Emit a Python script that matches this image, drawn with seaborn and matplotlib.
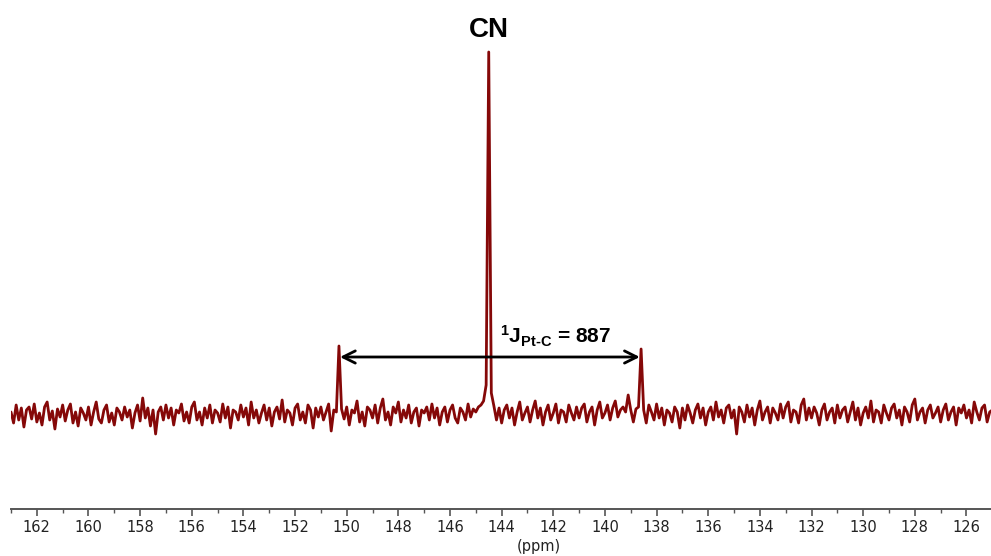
import numpy as np
import pandas as pd
import seaborn as sns
import matplotlib
matplotlib.use("Agg")
import matplotlib.pyplot as plt
from matplotlib.ticker import MultipleLocator

# 13C spectrum: chemical shift axis (ppm) sampled every 0.1 ppm from 163.0 down to 125.0
ppm_start, ppm_stop, ppm_step = 163.0, 125.0, 0.1
ppm = np.round(np.arange(ppm_start, ppm_stop - ppm_step / 2, -ppm_step), 2)

# intensity (arbitrary units), one value per ppm point
intensity = [
    3, -8, 10, -5, 7, -12, 5, 8, -4, 11, -7, 2, -10, 8, 13, -5, 4, -14, 6, -2,
    10, -6, 5, 11, -8, 3, -11, 7, 2, -5, 8, -10, 3, 13, -4, -8, 5, 10, -7, 2,
    -10, 7, 3, -5, 8, -2, 5, -13, 2, 10, -6, 17, -3, 7, -11, 5, -19, 3, 8, -5,
    10, -3, 7, -10, 5, 2, 11, -6, 3, -8, 8, 13, -5, 3, -10, 7, -3, 10, -8, 5,
    2, -7, 11, -3, 8, -13, 5, 3, -5, 10, -2, 7, -10, 13, -3, 5, -8, 2, 10, -5,
    7, -11, 3, 8, -4, 15, -7, 5, 2, -10, 7, 11, -5, 3, -8, 10, 5, -13, 7, -2,
    8, -5, 3, 11, -16, 5, 3, 69, 6, -4, 8, -10, 5, 2, 14, -7, 3, -11, 8, 5,
    -3, 10, -8, 7, 16, -5, 3, -10, 8, 2, 13, -7, 5, -3, 10, -8, 3, 7, -11, 5,
    2, 8, -5, 11, -3, 7, -10, 3, 8, -7, 5, 10, -3, -8, 7, 3, -5, 11, -2, 6,
    3, 8, 10, 14, 30, 363, 22, 9, -5, 7, -8, 5, 10, -3, 7, -10, 3, 13, -5, 2,
    8, -7, 5, 14, -3, 7, -10, 3, 10, -5, 2, 11, -8, 5, 3, -7, 10, 2, -5, 8,
    -3, 7, 11, -7, 3, 8, -10, 5, 13, -3, 2, 10, -5, 7, 14, -2, 5, 8, 3, 20,
    5, -7, 6, 8, 66, 5, -8, 10, 3, -5, 11, -3, 7, -10, 5, 2, -7, 8, 3, -13,
    7, -5, 10, 2, -8, 5, 11, -3, 7, -10, 3, 8, -5, 13, -2, 5, -8, 7, 10, -3,
    5, -19, 8, 3, -7, 10, -2, 7, -10, 5, 14, -5, 3, 8, -8, 7, 2, -5, 11, -3,
    8, 13, -7, 5, 3, -8, 10, 16, -5, 7, -3, 8, 2, -10, 5, 11, -5, 3, 7, -8,
    10, -3, 5, 8, -7, 3, 13, -5, 7, -10, 2, 8, -3, 14, -7, 5, 3, -8, 10, 2,
    -5, 7, 11, -3, 5, -10, 8, 3, -7, 10, 16, -5, 3, 7, -8, 5, 10, -3, 2, 8,
    -7, 5, 11, -5, 3, 8, -10, 7, 2, 10, -3, 5, -8, 13, 3, -5, 7, 10, -7, 3,
    5,
]

# Pt satellites (ppm) and coupling label
satellite_left, satellite_right = 150.26, 138.65
coupling_label = r"$^{1}$J$_{\mathregular{Pt\text{-}C}}$ = 887"
peak_label = "CN"
axis_label = "(ppm)"

df = pd.DataFrame({"ppm": ppm, "intensity": intensity})

sns.set_theme(style="white")
plt.rcParams["font.family"] = ["DejaVu Sans"]
plt.rcParams["mathtext.fontset"] = "custom"
plt.rcParams["mathtext.rm"] = "Liberation Sans:bold"
plt.rcParams["mathtext.it"] = "Liberation Sans:bold"
plt.rcParams["mathtext.bf"] = "Liberation Sans:bold"

W, H = 991, 556
fig = plt.figure(figsize=(W / 100, H / 100), dpi=100)
ax = fig.add_axes([11 / W, 1 - 509 / H, 1 - 11 / W, 509 / H])

sns.lineplot(data=df, x="ppm", y="intensity", ax=ax, color="#850808",
             linewidth=2.0, sort=False, estimator=None)

ax.set_xlim(163.0, 125.05)
ax.set_ylim(-94, 415)

for side in ("top", "left", "right"):
    ax.spines[side].set_visible(False)
ax.spines["bottom"].set_color("#555555")
ax.spines["bottom"].set_linewidth(1.4)

ax.xaxis.set_major_locator(MultipleLocator(2))
ax.xaxis.set_minor_locator(MultipleLocator(1))
ax.tick_params(axis="x", which="major", direction="out", length=5, width=1.2,
               color="#555555", labelsize=10.5, labelcolor="#222222", pad=3,
               bottom=True)
ax.tick_params(axis="x", which="minor", direction="out", length=3, width=1.0,
               color="#555555", bottom=True)
ax.set_yticks([])
ax.set_xlabel("")
ax.set_ylabel("")

# coupling arrow between the two satellites
ax.annotate("", xy=(satellite_left, 58), xytext=(satellite_right, 58),
            arrowprops=dict(arrowstyle="<->", color="black", lw=2.0,
                            mutation_scale=22, shrinkA=0, shrinkB=0))
ax.text(141.9, 66, coupling_label, fontsize=15, fontweight="bold",
        family="Liberation Sans", color="black", ha="center", va="bottom")

ax.text(144.5, 372, peak_label, fontsize=20, fontweight="bold",
        family="Liberation Sans", color="black", ha="center", va="bottom")

fig.text(539 / W, 1 - 546 / H, axis_label, fontsize=10.5, color="#222222",
         ha="center", va="center")

fig.savefig("out.png", dpi=100, facecolor="white")
